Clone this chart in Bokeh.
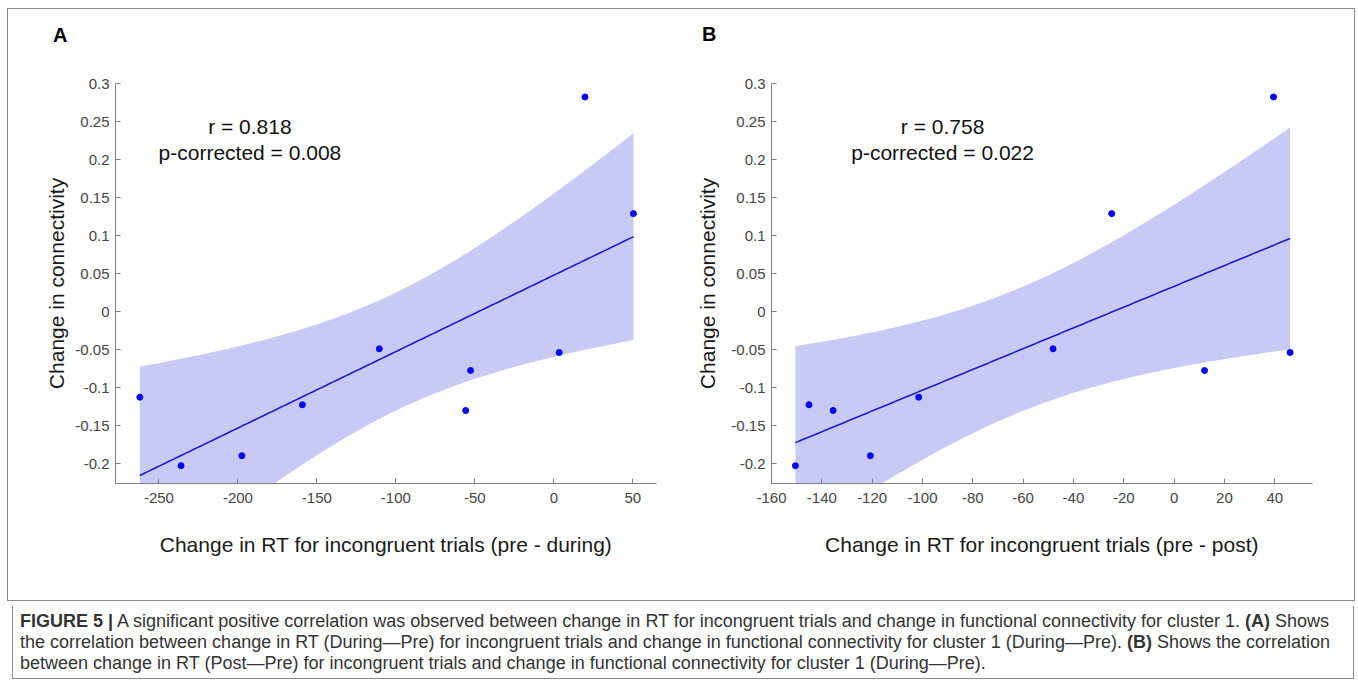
import numpy as np
from bokeh.plotting import figure
from bokeh.layouts import row, column, Spacer
from bokeh.models import Div, Range1d, FixedTicker, CustomJSTickFormatter, Label, ColumnDataSource
from bokeh.embed import file_html
from bokeh.resources import INLINE

# ---- data ----
conn_change = [-0.1125, -0.2026, -0.1895, -0.1225, -0.0489, -0.130, -0.0774, -0.0537, 0.2823, 0.1289]
rt_during = [-262.1, -236.0, -197.5, -159.2, -110.5, -55.8, -52.7, 3.4, 19.7, 50.4]
rt_post = [-101.5, -150.5, -120.7, -145.1, -48.1, -135.5, 12.1, 46.1, 39.5, -24.8]

y_ticks = [-0.2, -0.15, -0.1, -0.05, 0.0, 0.05, 0.1, 0.15, 0.2, 0.25, 0.3]
x_ticks_a = [-250, -200, -150, -100, -50, 0, 50]
x_ticks_b = [-160, -140, -120, -100, -80, -60, -40, -20, 0, 20, 40]

stats_a = ["r = 0.818", "p-corrected = 0.008"]
stats_b = ["r = 0.758", "p-corrected = 0.022"]
xlabel_a = "Change in RT for incongruent trials (pre - during)"
xlabel_b = "Change in RT for incongruent trials (pre - post)"
ylabel = "Change in connectivity"
panel_letters = ["A", "B"]

caption_lines = [
    "<b>FIGURE 5 |</b> A significant positive correlation was observed between change in RT for incongruent "
    "trials and change in functional connectivity for cluster 1. <b>(A)</b> Shows",
    "the correlation between change in RT (During\u2014Pre) for incongruent trials and change in functional "
    "connectivity for cluster 1 (During\u2014Pre). <b>(B)</b> Shows the correlation",
    "between change in RT (Post\u2014Pre) for incongruent trials and change in functional connectivity for "
    "cluster 1 (During\u2014Pre).",
]

FONT = "Liberation Sans"
T_CRIT = 2.306  # t(0.975, df=8)


def fit_band(x, y):
    x = np.asarray(x, float)
    y = np.asarray(y, float)
    n = len(x)
    slope, icpt = np.polyfit(x, y, 1)
    xs = np.linspace(x.min(), x.max(), 200)
    yh = slope * xs + icpt
    resid = y - (slope * x + icpt)
    s = np.sqrt(np.sum(resid ** 2) / (n - 2))
    sxx = np.sum((x - x.mean()) ** 2)
    se = s * np.sqrt(1.0 / n + (xs - x.mean()) ** 2 / sxx)
    return xs, yh, yh - T_CRIT * se, yh + T_CRIT * se


def panel(x, y, xr, xticks, xlabel, stats, stat_x, width, bl, br, ylab_standoff):
    p = figure(width=width, height=551, x_range=Range1d(*xr), y_range=Range1d(-0.226, 0.3),
               min_border_left=bl, min_border_right=br, min_border_top=34, min_border_bottom=117,
               output_backend="svg", toolbar_location=None, tools="")
    p.outline_line_color = None
    p.grid.visible = False
    p.background_fill_color = "white"
    p.border_fill_color = "white"

    xs, yh, lo, hi = fit_band(x, y)
    src = ColumnDataSource(dict(x=xs, y=yh, lo=lo, hi=hi))
    p.varea(x="x", y1="lo", y2="hi", source=src, fill_color="#c9c9f6", fill_alpha=1.0)
    p.line(x="x", y="y", source=src, line_color="#1c1cc4", line_width=1.6)
    p.scatter(x=x, y=y, size=6, fill_color="#0000ff", line_color="#0000ff")

    for ax in (p.xaxis[0], p.yaxis[0]):
        ax.axis_line_color = "#808080"
        ax.major_tick_line_color = "#808080"
        ax.major_tick_in = 5
        ax.major_tick_out = 0
        ax.minor_tick_line_color = None
        ax.major_label_text_font = FONT
        ax.major_label_text_font_size = "15px"
        ax.major_label_text_color = "#454545"
        ax.axis_label_text_font = FONT
        ax.axis_label_text_font_size = "21px"
        ax.axis_label_text_font_style = "normal"
        ax.axis_label_text_color = "#1a1a1a"

    p.xaxis.ticker = FixedTicker(ticks=xticks)
    p.xaxis.formatter = CustomJSTickFormatter(code="return tick.toFixed(0);")
    p.xaxis.axis_label = xlabel
    p.xaxis.major_label_standoff = 9
    p.xaxis.axis_label_standoff = 27

    p.yaxis.ticker = FixedTicker(ticks=y_ticks)
    p.yaxis.formatter = CustomJSTickFormatter(code="""
        let s = tick.toFixed(2);
        s = s.replace(/0+$/, '').replace(/\\.$/, '');
        if (s === '-0') s = '0';
        return s;
    """)
    p.yaxis.axis_label = ylabel
    p.yaxis.major_label_standoff = 6
    p.yaxis.axis_label_standoff = ylab_standoff

    p.add_layout(Label(x=stat_x, y=0.243, text=stats[0], text_align="center", text_baseline="middle",
                       text_font=FONT, text_font_size="21px", text_color="#111111"))
    p.add_layout(Label(x=stat_x, y=0.209, text=stats[1], text_align="center", text_baseline="middle",
                       text_font=FONT, text_font_size="21px", text_color="#111111"))
    return p


pa = panel(rt_during, conn_change, (-277.5, 65), x_ticks_a, xlabel_a, stats_a,
           -192.4, 672, 107, 24, 4)
pb = panel(rt_post, conn_change, (-160, 55), x_ticks_b, xlabel_b, stats_b,
           -92.0, 674, 91, 42, 9)

letters_html = (
    "<div style=\"position:relative;width:1346px;height:40px;font-family:'Liberation Sans',Arial,sans-serif;"
    "font-size:20px;font-weight:bold;line-height:20px;color:#000;\">"
    f"<span style=\"position:absolute;left:45px;top:16px;\">{panel_letters[0]}</span>"
    f"<span style=\"position:absolute;left:694px;top:15px;\">{panel_letters[1]}</span>"
    "</div>"
)
letters = Div(text=letters_html, width=1346, height=40, margin=0)

top = column(letters, row(pa, pb), styles={"border": "1px solid #8a8a8a"}, spacing=0)

line_divs = "".join(
    f"<div style=\"height:21px;line-height:21px;white-space:nowrap;\">{t}</div>" for t in caption_lines
)
caption_html = (
    "<div style=\"font-family:'Liberation Sans',Arial,sans-serif;font-size:18px;"
    "color:#333;padding:5px 0 0 7px;\">" + line_divs + "</div>"
)
caption = Div(text=caption_html, width=1342, height=73,
              styles={"border-left": "1px solid #8a8a8a", "border-right": "1px solid #8a8a8a",
                      "border-bottom": "1px solid #8a8a8a", "overflow": "hidden"})

layout = row(Spacer(width=7), column(Spacer(height=8), top, caption, spacing=0), spacing=0)

with open("out.html", "w") as f:
    f.write(file_html(layout, INLINE))
